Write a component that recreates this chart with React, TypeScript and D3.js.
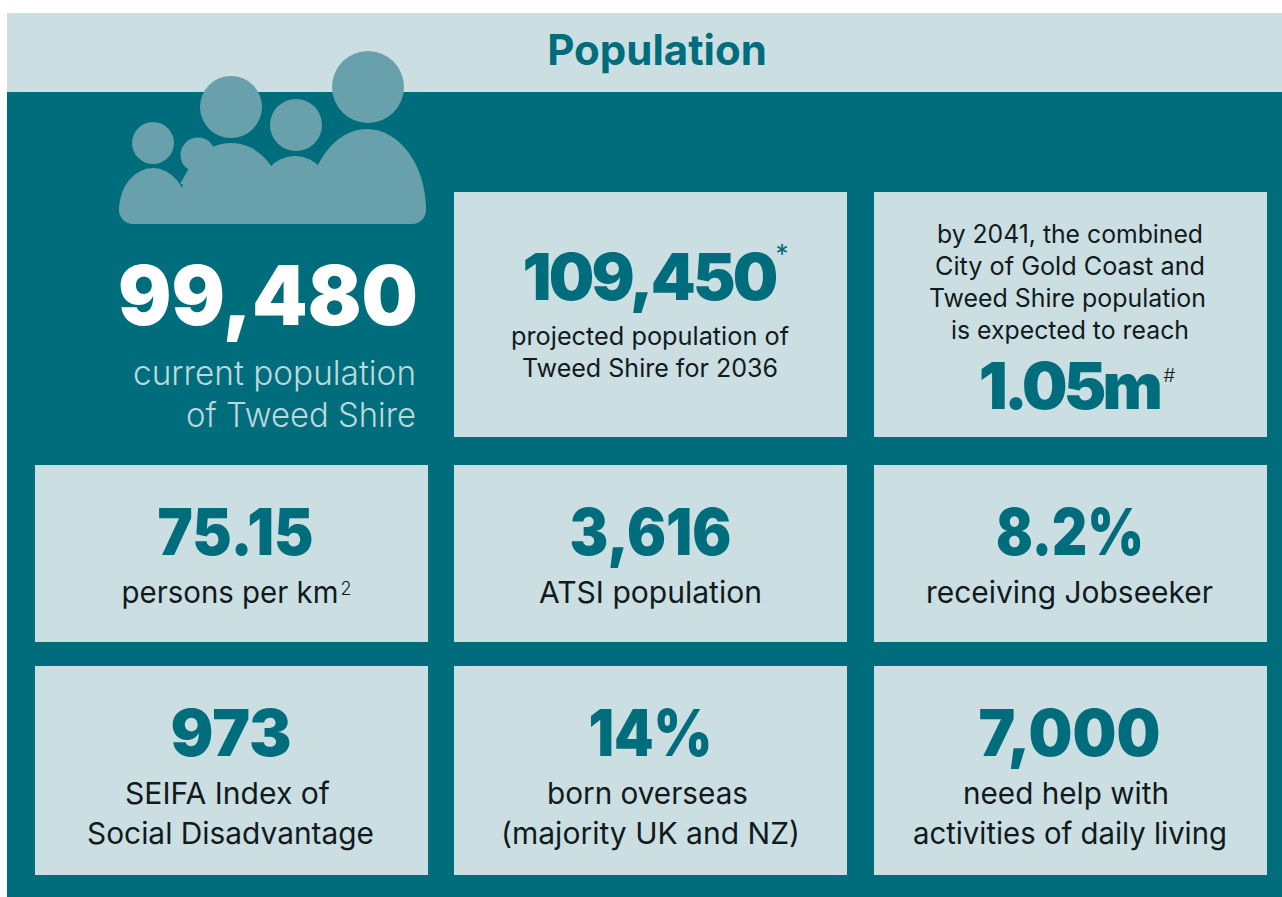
import React from "react";
import * as d3 from "d3";

const title = "Population";
const heroValue = "99,480";
const heroCaption = ["current population", "of Tweed Shire"];
const tileValues = ["109,450", "1.05m", "75.15", "3,616", "8.2%", "973", "14%", "7,000"];
const tileLabels = [
  ["projected population of", "Tweed Shire for 2036"],
  ["by 2041, the combined", "City of Gold Coast and", "Tweed Shire population", "is expected to reach"],
  ["persons per km"],
  ["ATSI population"],
  ["receiving Jobseeker"],
  ["SEIFA Index of", "Social Disadvantage"],
  ["born overseas", "(majority UK and NZ)"],
  ["need help with", "activities of daily living"],
];
// tile grid: column index, row index
const tileCols = [1, 2, 0, 1, 2, 0, 1, 2];
const tileRows = [0, 0, 1, 1, 1, 2, 2, 2];
const colEdges: [number, number][] = [[35, 428], [454, 847], [874, 1267]];
const rowEdges: [number, number][] = [[192, 437], [465, 642], [666, 875]];

// the original font is not installed, so widths and centres are pinned to what the picture shows
const valueWidths = [252, 182, 156, 162, 148, 121, 124, 182];
const valueCenters = [649, 1069, 235.5, 650.5, 1070, 231, 650.5, 1069.5];
const labelWidths = [[278, 256], [266, 270, 277, 238], [217], [223], [287], [205, 287], [201, 299], [206, 314]];
const labelCenters = [[650, 650], [1070, 1070, 1067.5, 1070], [230], [650.5], [1069.5], [227.5, 230.5], [647.5, 650.5], [1066, 1070]];
const captionWidths = [283, 230];

const teal = "#006d7c";
const pale = "#cbdfe3";
const muted = "#68a1ab";
const ink = "#111a1c";
const font = "Inter, 'Open Sans', sans-serif";

// people icon
const heads = [[153, 143, 21], [231, 107, 31], [296, 125, 26], [368, 87, 36], [198, 155, 17.5]];
const bodies = [[153, 210, 34, 42], [231, 200, 50, 57], [295, 200, 38, 44], [367, 210, 59, 81]];
const neck: [number, number][] = [[180, 184], [188, 170], [213, 146], [240, 195]];
const neckPath = d3.line()(neck) + "Z";

const bodyPath = ([cx, cy, rx, ry]: number[]) => `M${cx - rx},${cy}A${rx},${ry} 0 0 1 ${cx + rx},${cy}Z`;

function Tile({ i }: { i: number }) {
  const [x0, x1] = colEdges[tileCols[i]];
  const [y0, y1] = rowEdges[tileRows[i]];
  const first = i < 2;
  const valueY = i === 0 ? 300 : i === 1 ? 409 : y0 + 89.5;
  const labelSize = first ? 25 : 30;
  const labelStart = i === 0 ? 345 : i === 1 ? 243 : y0 + 138;
  const labelStep = first ? 32 : 39.5;
  // the two values with a superscript beside them are tightened by tracking
  const fit = first
    ? { letterSpacing: i === 0 ? -2.8 : -3.8 }
    : { textLength: valueWidths[i], lengthAdjust: "spacingAndGlyphs" };
  return (
    <g>
      <rect x={x0} y={y0} width={x1 - x0} height={y1 - y0} fill={pale} />
      <text x={valueCenters[i]} y={valueY} fontSize={64} fontWeight={900} fill={teal} {...fit}>{tileValues[i]}</text>
      {tileLabels[i].map((t, j) => (
        <text key={j} x={labelCenters[i][j]} y={labelStart + j * labelStep} fontSize={labelSize} fontWeight={400} fill={ink}
          textLength={labelWidths[i][j]} lengthAdjust="spacingAndGlyphs">{t}</text>
      ))}
    </g>
  );
}

export default function App() {
  return (
    <svg width={1282} height={897} style={{ position: "absolute", left: 0, top: 0 }} fontFamily={font} textAnchor="middle">
      <rect x={7} y={13} width={1275} height={79} fill={pale} />
      <rect x={7} y={92} width={1275} height={805} fill={teal} />
      <text x={657} y={65} fontSize={42} fontWeight={700} fill={teal}>{title}</text>

      <g fill={muted}>
        {heads.map((h, i) => <circle key={i} cx={h[0]} cy={h[1]} r={h[2]} />)}
        {bodies.map((b, i) => <path key={i} d={bodyPath(b)} />)}
        <path d={neckPath} />
        <rect x={119} y={196} width={307} height={28} rx={14} />
      </g>

      <text x={268} y={325} fontSize={82} fontWeight={900} fill="#fff" textLength={300} lengthAdjust="spacingAndGlyphs">{heroValue}</text>
      {heroCaption.map((t, i) => (
        <text key={i} x={416} y={385 + i * 42} fontSize={33.4} fill="#bcd8dc" textAnchor="end" fontWeight={300}
          textLength={captionWidths[i]} lengthAdjust="spacingAndGlyphs">{t}</text>
      ))}

      {tileValues.map((_, i) => <Tile key={i} i={i} />)}

      <text x={782} y={263} fontSize={26} fontWeight={400} fill={teal}>*</text>
      <text x={1169} y={382} fontSize={19} fontStyle="italic" fontWeight={300} fill={ink}>#</text>
      <text x={346} y={595} fontSize={18} fontWeight={300} fill={ink}>2</text>
    </svg>
  );
}
